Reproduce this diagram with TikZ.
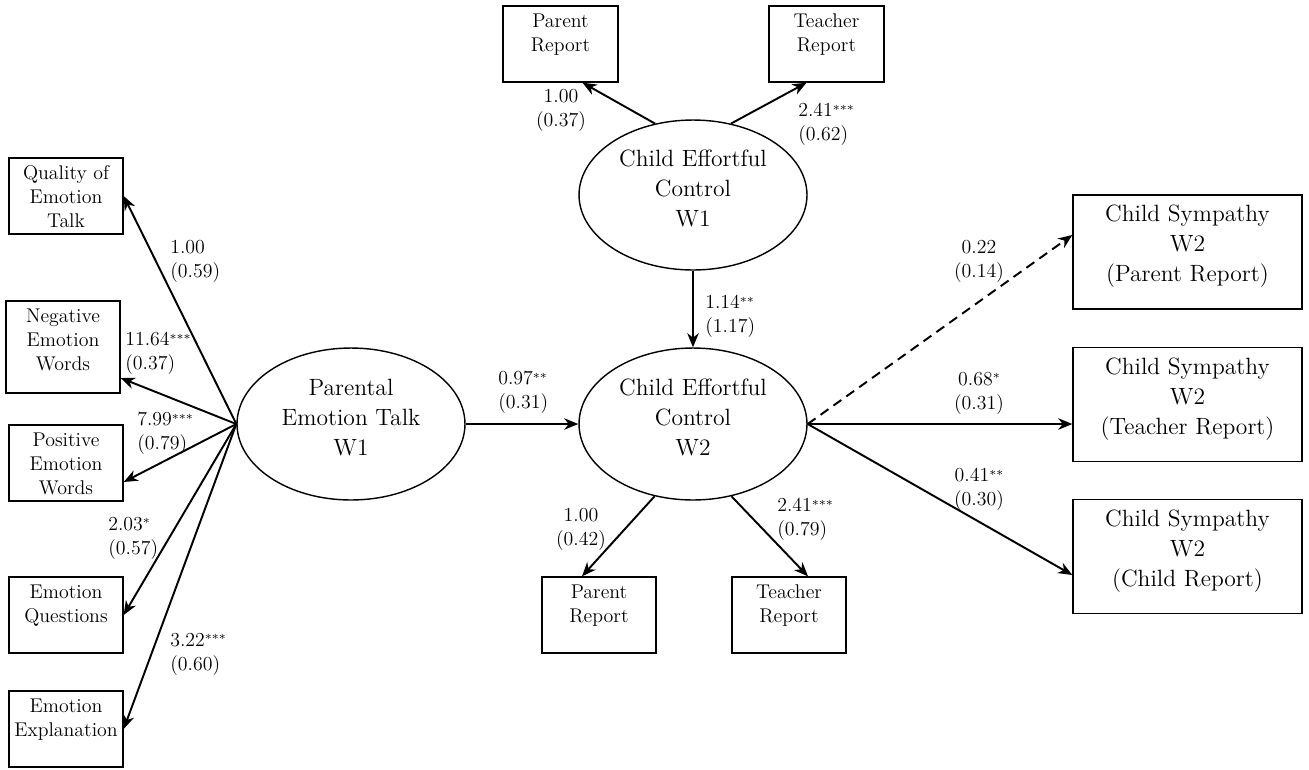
\documentclass[tikz,border=0pt]{standalone}
\usepackage{fontspec}
\usetikzlibrary{shapes.geometric,arrows.meta,calc}
\newcommand{\smallfont}{\fontsize{11.3}{13.6}\selectfont}
\newcommand{\bigfont}{\fontsize{13.4}{17}\selectfont}
\newcommand{\sboxtext}[3]{\parbox[c][#2][t]{#1}{\smallfont\centering\rule{0pt}{12.5pt}#3}}
\newcommand{\bboxtext}[3]{\parbox[c][#2][t]{#1}{\bigfont\centering\rule{0pt}{15.3pt}#3}}
\newcommand{\sg}[1]{{\fontsize{7}{7}\selectfont\raisebox{1.5pt}{#1}}}
\newcommand{\lowend}{\rule[-8pt]{0pt}{0pt}}
\tikzset{
  obs/.style={draw, line width=0.8pt, rectangle, inner sep=0pt},
  lat/.style={draw, line width=0.8pt, ellipse, inner sep=0pt, align=center,
              font=\bigfont, minimum width=4.56cm, minimum height=3.04cm},
  conn/.style={line width=1.1pt, -{Stealth[length=8pt,width=6.5pt,inset=2.5pt]}},
  labl/.style={font=\smallfont, inner sep=0pt, align=left, anchor=north west},
  labc/.style={font=\smallfont, inner sep=0pt, align=center, anchor=north}
}
\begin{document}
\begin{tikzpicture}[x=0.02cm, y=-0.02cm]
\useasboundingbox (0,0) rectangle (1309,769);
% left observed
\node[obs] (qual) at (66,196) {\sboxtext{2.28cm}{1.52cm}{Quality of\\Emotion\\Talk}};
\node[obs] (neg) at (63,347) {\sboxtext{2.28cm}{1.84cm}{Negative\\Emotion\\Words}};
\node[obs] (pos) at (66,463) {\sboxtext{2.28cm}{1.52cm}{Positive\\Emotion\\Words}};
\node[obs] (ques) at (66,615) {\sboxtext{2.28cm}{1.52cm}{Emotion\\Questions}};
\node[obs] (expl) at (66,729) {\sboxtext{2.28cm}{1.52cm}{Emotion\\Explanation}};
% top / bottom observed
\node[obs] (p1) at (560.5,44) {\sboxtext{2.3cm}{1.52cm}{Parent\\Report}};
\node[obs] (t1) at (826.5,44) {\sboxtext{2.3cm}{1.52cm}{Teacher\\Report}};
\node[obs] (p2) at (599,615) {\sboxtext{2.28cm}{1.52cm}{Parent\\Report}};
\node[obs] (t2) at (789,615) {\sboxtext{2.28cm}{1.52cm}{Teacher\\Report}};
% right observed
\node[obs] (s1) at (1187.5,252) {\bboxtext{4.58cm}{2.28cm}{Child Sympathy\\W2\\(Parent Report)}};
\node[obs] (s2) at (1187.5,404.5) {\bboxtext{4.58cm}{2.28cm}{Child Sympathy\\W2\\(Teacher Report)}};
\node[obs] (s3) at (1187.5,556.5) {\bboxtext{4.58cm}{2.28cm}{Child Sympathy\\W2\\(Child Report)}};
% latent
\node[lat] (pet) at (351,424) {Parental\\Emotion Talk\\W1\lowend};
\node[lat, minimum height=3.0cm] (cw1) at (693,195) {Child Effortful\\Control\\W1\lowend};
\node[lat] (cw2) at (693,424) {Child Effortful\\Control\\W2\lowend};
% connectors
\draw[conn] (pet.west) -- (qual.east);
\draw[conn] (pet.west) -- ($(neg.east)+(0,31)$);
\draw[conn] (pet.west) -- ($(pos.east)+(0,19)$);
\draw[conn] (pet.west) -- (ques.east);
\draw[conn] (pet.west) -- (expl.east);
\draw[conn] (cw1.118) -- ($(p1.south)+(22,0)$);
\draw[conn] (cw1.62) -- ($(t1.south)+(-20,0)$);
\draw[conn] (cw1.south) -- (cw2.north);
\draw[conn] (pet.east) -- (cw2.west);
\draw[conn] (cw2.242) -- ($(p2.north)+(-17,0)$);
\draw[conn] (cw2.298) -- ($(t2.north)+(19,0)$);
\draw[conn, dash pattern=on 5.5pt off 3.5pt] (cw2.east) -- ($(s1.west)+(0,-17)$);
\draw[conn] (cw2.east) -- ($(s2.west)+(0,19.5)$);
\draw[conn] (cw2.east) -- ($(s3.west)+(0,18.5)$);
% labels
\node[labl] (la) at (170,240) {1.00\\(0.59)};
\node[labl] (lb) at (125,332) {11.64\sg{***}\\(0.37)};
\node[labl] (lc) at (137,412) {7.99\sg{***}\\(0.79)};
\node[labl] (ld) at (108,517) {2.03\sg{*}\\(0.57)};
\node[labl] (le) at (170,633) {3.22\sg{***}\\(0.60)};
\node[labc] (lf) at (561,89) {1.00\\(0.37)};
\node[labl] (lg) at (798,103) {2.41\sg{***}\\(0.62)};
\node[labl] (lh) at (705,295) {1.14\sg{**}\\(1.17)};
\node[labl] (li) at (498,371) {0.97\sg{**}\\(0.31)};
\node[labc] (lj) at (581,508) {1.00\\(0.42)};
\node[labl] (lk) at (777,498) {2.41\sg{***}\\(0.79)};
\node[labc] (ll) at (979,240) {0.22\\(0.14)};
\node[labc] (lm) at (979,372) {0.68\sg{*}\\(0.31)};
\node[labc] (ln) at (979,468) {0.41\sg{**}\\(0.30)};
\end{tikzpicture}
\end{document}
